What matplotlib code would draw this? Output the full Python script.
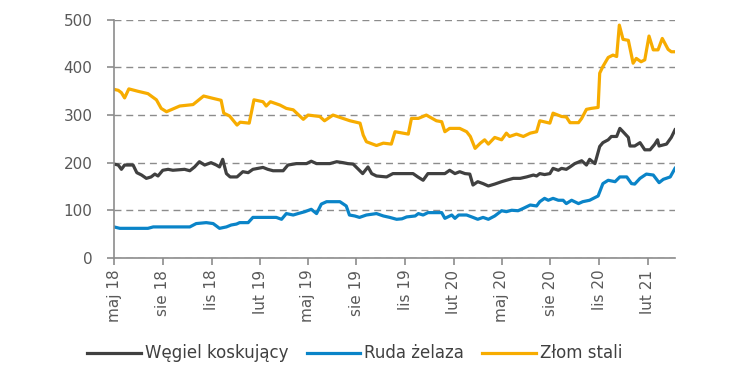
import numpy as np
import pandas as pd
from matplotlib import pyplot as plt

# days since 1 May 2018
start = pd.Timestamp("2018-05-01")

coal_days = [0, 8, 14, 20, 36, 43, 52, 61, 70, 77, 83, 92, 102, 111, 133, 143, 152, 161,
             171, 183, 193, 199, 205, 212, 219, 232, 243, 253, 262, 281, 290, 300, 319, 328,
             344, 363, 372, 382, 407, 420, 432, 441, 451, 461, 469, 479, 486, 495, 514, 526,
             564, 573, 583, 592, 624, 633, 643, 652, 662, 671, 677, 686, 696, 706, 718, 731,
             740, 753, 766, 778, 791, 797, 803, 812, 822, 828, 838, 844, 853, 860, 869, 882,
             891, 897, 907, 916, 922, 932, 938, 948, 954, 960, 970, 973, 982, 992, 1001, 1011,
             1020, 1025, 1028, 1042, 1051, 1058]
coal_vals = [197, 195, 186, 195, 195, 179, 174, 167, 170, 176, 172, 184, 186, 184, 186, 183, 191, 202,
             195, 200, 195, 191, 207, 177, 170, 170, 181, 179, 186, 190, 186, 183, 183, 195,
             198, 198, 203, 198, 198, 202, 200, 198, 197, 186, 177, 191, 177, 172, 170, 177,
             177, 170, 163, 177, 177, 184, 177, 181, 177, 176, 153, 160, 156, 151, 155, 160,
             163, 167, 167, 170, 174, 172, 177, 175, 177, 188, 184, 188, 186, 191, 198, 204,
             195, 207, 198, 234, 242, 248, 255, 255, 272, 265, 253, 235, 235, 242, 227, 227,
             239, 248, 235, 239, 253, 269]

ore_days = [0, 11, 36, 64, 74, 99, 143, 155, 174, 187, 199, 212, 221, 231, 237, 253, 262, 281,
            306, 316, 325, 338, 347, 360, 372, 382, 391, 401, 426, 438, 444, 454, 463, 476,
            495, 508, 520, 533, 543, 552, 568, 574, 583, 592, 618, 624, 637, 643, 650, 665,
            677, 686, 696, 706, 718, 731, 740, 750, 762, 772, 785, 797, 803, 812, 819, 828,
            838, 847, 853, 863, 876, 884, 897, 913, 922, 932, 945, 954, 967, 976, 982, 992,
            1004, 1017, 1028, 1036, 1049, 1058]
ore_vals = [65, 62, 62, 62, 65, 65, 65, 72, 74, 72, 62, 65, 69, 71, 74, 74, 85, 85,
            85, 81, 93, 90, 93, 97, 102, 93, 113, 118, 118, 109, 90, 88, 85, 90,
            93, 88, 85, 81, 82, 86, 88, 93, 90, 95, 95, 83, 90, 83, 90, 90,
            85, 81, 85, 81, 88, 99, 97, 100, 99, 104, 111, 109, 118, 125, 121, 125,
            121, 121, 114, 121, 114, 118, 121, 130, 156, 163, 160, 170, 170, 156, 155, 167,
            176, 174, 158, 165, 170, 188]

scrap_days = [0, 8, 14, 20, 28, 45, 64, 80, 89, 99, 124, 149, 169, 187, 202, 207, 218, 232,
              238, 255, 264, 281, 287, 295, 313, 325, 338, 357, 366, 388, 397, 413, 445, 464,
              470, 476, 495, 508, 523, 530, 555, 561, 574, 589, 608, 618, 624, 633, 652, 665,
              672, 681, 691, 699, 706, 718, 731, 740, 746, 759, 772, 785, 797, 803, 822, 828,
              844, 853, 860, 876, 882, 891, 900, 913, 916, 922, 932, 941, 948, 953, 960, 970,
              979, 985, 994, 1001, 1009, 1017, 1026, 1034, 1045, 1051, 1058]
scrap_vals = [354, 352, 347, 336, 355, 350, 345, 332, 314, 307, 319, 322, 340, 335, 331, 304, 298, 279,
              285, 283, 332, 328, 319, 328, 321, 314, 311, 291, 300, 297, 288, 300, 288, 283,
              258, 244, 236, 241, 239, 265, 260, 293, 293, 300, 288, 286, 265, 272, 272, 265,
              255, 230, 241, 248, 239, 253, 248, 262, 255, 260, 255, 262, 265, 288, 283, 304,
              297, 296, 284, 284, 293, 312, 314, 316, 388, 402, 421, 426, 423, 489, 459, 457,
              409, 419, 412, 416, 466, 437, 437, 461, 438, 433, 433]

tick_labels = ["maj 18", "sie 18", "lis 18", "lut 19", "maj 19", "sie 19", "lis 19",
               "lut 20", "maj 20", "sie 20", "lis 20", "lut 21"]
y_ticks = [0, 100, 200, 300, 400, 500]

series = [
    ("Węgiel koskujący", coal_days, coal_vals, "#404040"),
    ("Ruda żelaza", ore_days, ore_vals, "#0A84C8"),
    ("Złom stali", scrap_days, scrap_vals, "#F7AC00"),
]


def to_dates(days):
    return start + pd.to_timedelta(np.array(days), unit="D")


fig = plt.figure(figsize=(7.5, 3.82), dpi=100)
ax = fig.add_axes([0.152, 0.325, 0.748, 0.623])

for name, d, v, c in series:
    ax.plot(to_dates(d), v, color=c, lw=2.3, label=name, solid_joinstyle="round")

grey = "#8C8C8C"
ax.set_ylim(0, 500)
ax.set_yticks(y_ticks)
ax.set_xlim(start, start + pd.Timedelta(days=1058))
ax.set_xticks(pd.date_range("2018-05-01", "2021-02-01", freq="3MS"))
ax.set_xticklabels(tick_labels, rotation=90)

ax.grid(axis="y", color=grey, lw=1.0, linestyle=(0, (5, 3.5)))
ax.set_axisbelow(True)
for s in ["top", "right"]:
    ax.spines[s].set_visible(False)
for s in ["left", "bottom"]:
    ax.spines[s].set_color(grey)
    ax.spines[s].set_linewidth(1.2)
ax.tick_params(axis="both", colors=grey, length=5, width=1.2, labelsize=11, labelcolor="#595959")
ax.tick_params(axis="y", pad=10.5)

fig.legend(loc="center", bbox_to_anchor=(0.473, 0.075), ncol=3, frameon=False,
           fontsize=12, handlelength=3.2, handletextpad=0.25, columnspacing=1.1,
           labelcolor="#404040")

plt.savefig("out.png", dpi=100)
plt.close()
